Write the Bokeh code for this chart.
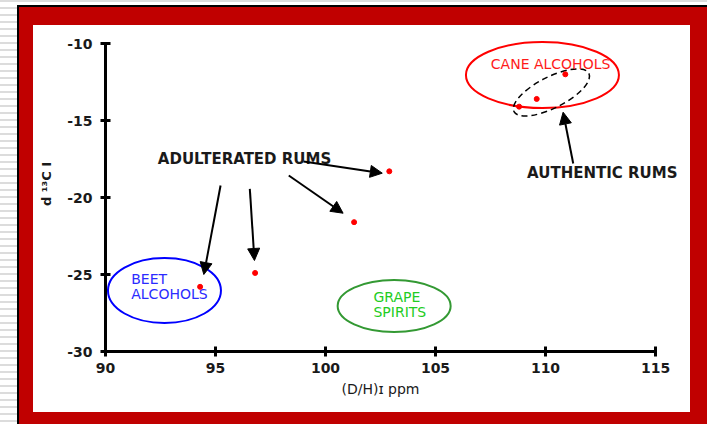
from bokeh.plotting import figure
from bokeh.models import Range1d, FixedTicker, Arrow, NormalHead, ColumnDataSource
from bokeh.core.properties import value
from bokeh.embed import file_html
from bokeh.resources import INLINE

# ---- data ----
authentic_x = [110.9, 109.6, 108.8]
authentic_y = [-12.0, -13.6, -14.1]
adulterated_x = [102.9, 101.3, 96.8, 94.3]
adulterated_y = [-18.3, -21.6, -24.9, -25.8]

x_ticks = [90, 95, 100, 105, 110, 115]
y_ticks = [-30, -25, -20, -15, -10]
y_tick_labels = ["-30", "-25", "-20", "-15", "-10"]

# group ellipses (centre in data units)
group_x = [109.86, 92.68, 103.12]
group_y = [-12.05, -26.04, -27.05]
group_colors = ["#ff0000", "#0000ff", "#339933"]

# authentic-rums dashed outline
auth_cx = [110.27]
auth_cy = [-13.18]

# labels
label_text = ["CANE ALCOHOLS", "BEET", "ALCOHOLS", "GRAPE", "SPIRITS"]
label_x = [110.23, 91.17, 91.17, 102.18, 102.18]
label_y = [-11.30, -25.32, -26.25, -26.47, -27.45]
label_colors = ["#ff1a1a", "#2b2bff", "#2b2bff", "#22cc22", "#22cc22"]

note_text = ["ADULTERATED RUMS", "AUTHENTIC RUMS"]
note_x = [96.32, 112.58]
note_y = [-17.50, -18.42]

# arrows
arrow_x0 = [95.23, 96.56, 98.33, 99.0, 111.26]
arrow_y0 = [-19.22, -19.44, -18.57, -17.66, -17.79]
arrow_x1 = [94.47, 96.77, 100.80, 102.58, 110.80]
arrow_y1 = [-25.0, -24.09, -21.02, -18.42, -14.46]

FONT = "DejaVu Sans"

p = figure(
    width=707, height=424, output_backend="svg", toolbar_location=None,
    x_range=Range1d(90, 116.59), y_range=Range1d(-30, -8.831),
    min_border_left=105, min_border_right=17, min_border_top=25, min_border_bottom=73,
    border_fill_color=None, background_fill_color=None, outline_line_color=None,
)
p.styles = {
    "background-image": "linear-gradient(#ffffff,#ffffff), linear-gradient(#c00000,#c00000), "
                        "linear-gradient(#000000,#000000), "
                        "repeating-linear-gradient(to bottom, #dcdcdc 0px, #dcdcdc 2px, #ffffff 2px, #ffffff 7px)",
    "background-position": "33px 25px, 19px 7px, 17px 5px, 0px 0px",
    "background-size": "657px 387px, 688px 417px, 690px 419px, 100% 100%",
    "background-repeat": "no-repeat",
}
p.grid.visible = False

for ax in (p.xaxis[0], p.yaxis[0]):
    ax.axis_line_width = 3
    ax.axis_line_color = "black"
    ax.major_tick_line_width = 3
    ax.major_tick_line_color = "black"
    ax.major_tick_in = 5
    ax.major_tick_out = 5
    ax.minor_tick_line_color = None
    ax.major_label_text_font = FONT
    ax.major_label_text_font_size = "14px"
    ax.major_label_text_font_style = "bold"
    ax.major_label_text_color = "#1a1a1a"
    ax.axis_label_text_font = FONT
    ax.axis_label_text_color = "#1a1a1a"

p.xaxis.bounds = (90, 115)
p.xaxis.ticker = FixedTicker(ticks=x_ticks)
p.xaxis.major_label_standoff = 6
p.xaxis.axis_label = "(D/H)\u026a ppm\u2003\u2003\u2002"
p.xaxis.axis_label_text_font_size = "14px"
p.xaxis.axis_label_text_font_style = "normal"
p.xaxis.axis_label_standoff = 5

p.yaxis.bounds = (-30, -10)
p.yaxis.ticker = FixedTicker(ticks=y_ticks)
p.yaxis.major_label_overrides = dict(zip(y_ticks, y_tick_labels))
p.yaxis.major_label_standoff = 8
p.yaxis.axis_label = "\u2002\u2009d \u00b9\u00b3C I"
p.yaxis.axis_label_text_font_size = "13px"
p.yaxis.axis_label_text_font_style = "bold"
p.yaxis.axis_label_standoff = 10

# ellipses
p.ellipse(x=group_x, y=group_y, width=[153, 113, 113], height=[66, 65, 52],
          width_units="screen", height_units="screen",
          fill_color=None, line_color=group_colors, line_width=2)
p.ellipse(x=auth_cx, y=auth_cy, width=[84], height=[31], angle=[27], angle_units="deg",
          width_units="screen", height_units="screen",
          fill_color=None, line_color="black", line_width=1.5, line_dash="6 4")

# labels
p.text(x=label_x[:1], y=label_y[:1], text=label_text[:1], text_color=label_colors[:1],
       text_font=value(FONT), text_font_size="14px", text_align="center", text_baseline="middle")
p.text(x=label_x[1:], y=label_y[1:], text=label_text[1:], text_color=label_colors[1:],
       text_font=value(FONT), text_font_size="14px", text_align="left", text_baseline="middle")
p.text(x=note_x, y=note_y, text=note_text, text_color="#1a1a1a",
       text_font=value(FONT), text_font_size="15px", text_font_style="bold",
       text_align="center", text_baseline="middle")

# arrows
asrc = ColumnDataSource(dict(x0=arrow_x0, y0=arrow_y0, x1=arrow_x1, y1=arrow_y1))
p.add_layout(Arrow(end=NormalHead(size=12, fill_color="black", line_color="black"),
                   x_start="x0", y_start="y0", x_end="x1", y_end="y1", source=asrc,
                   line_color="black", line_width=2))

# points
p.scatter(authentic_x, authentic_y, size=5, color="#ff0000")
p.scatter(adulterated_x, adulterated_y, size=5, color="#ff0000")

open("out.html", "w").write(file_html(p, INLINE))
